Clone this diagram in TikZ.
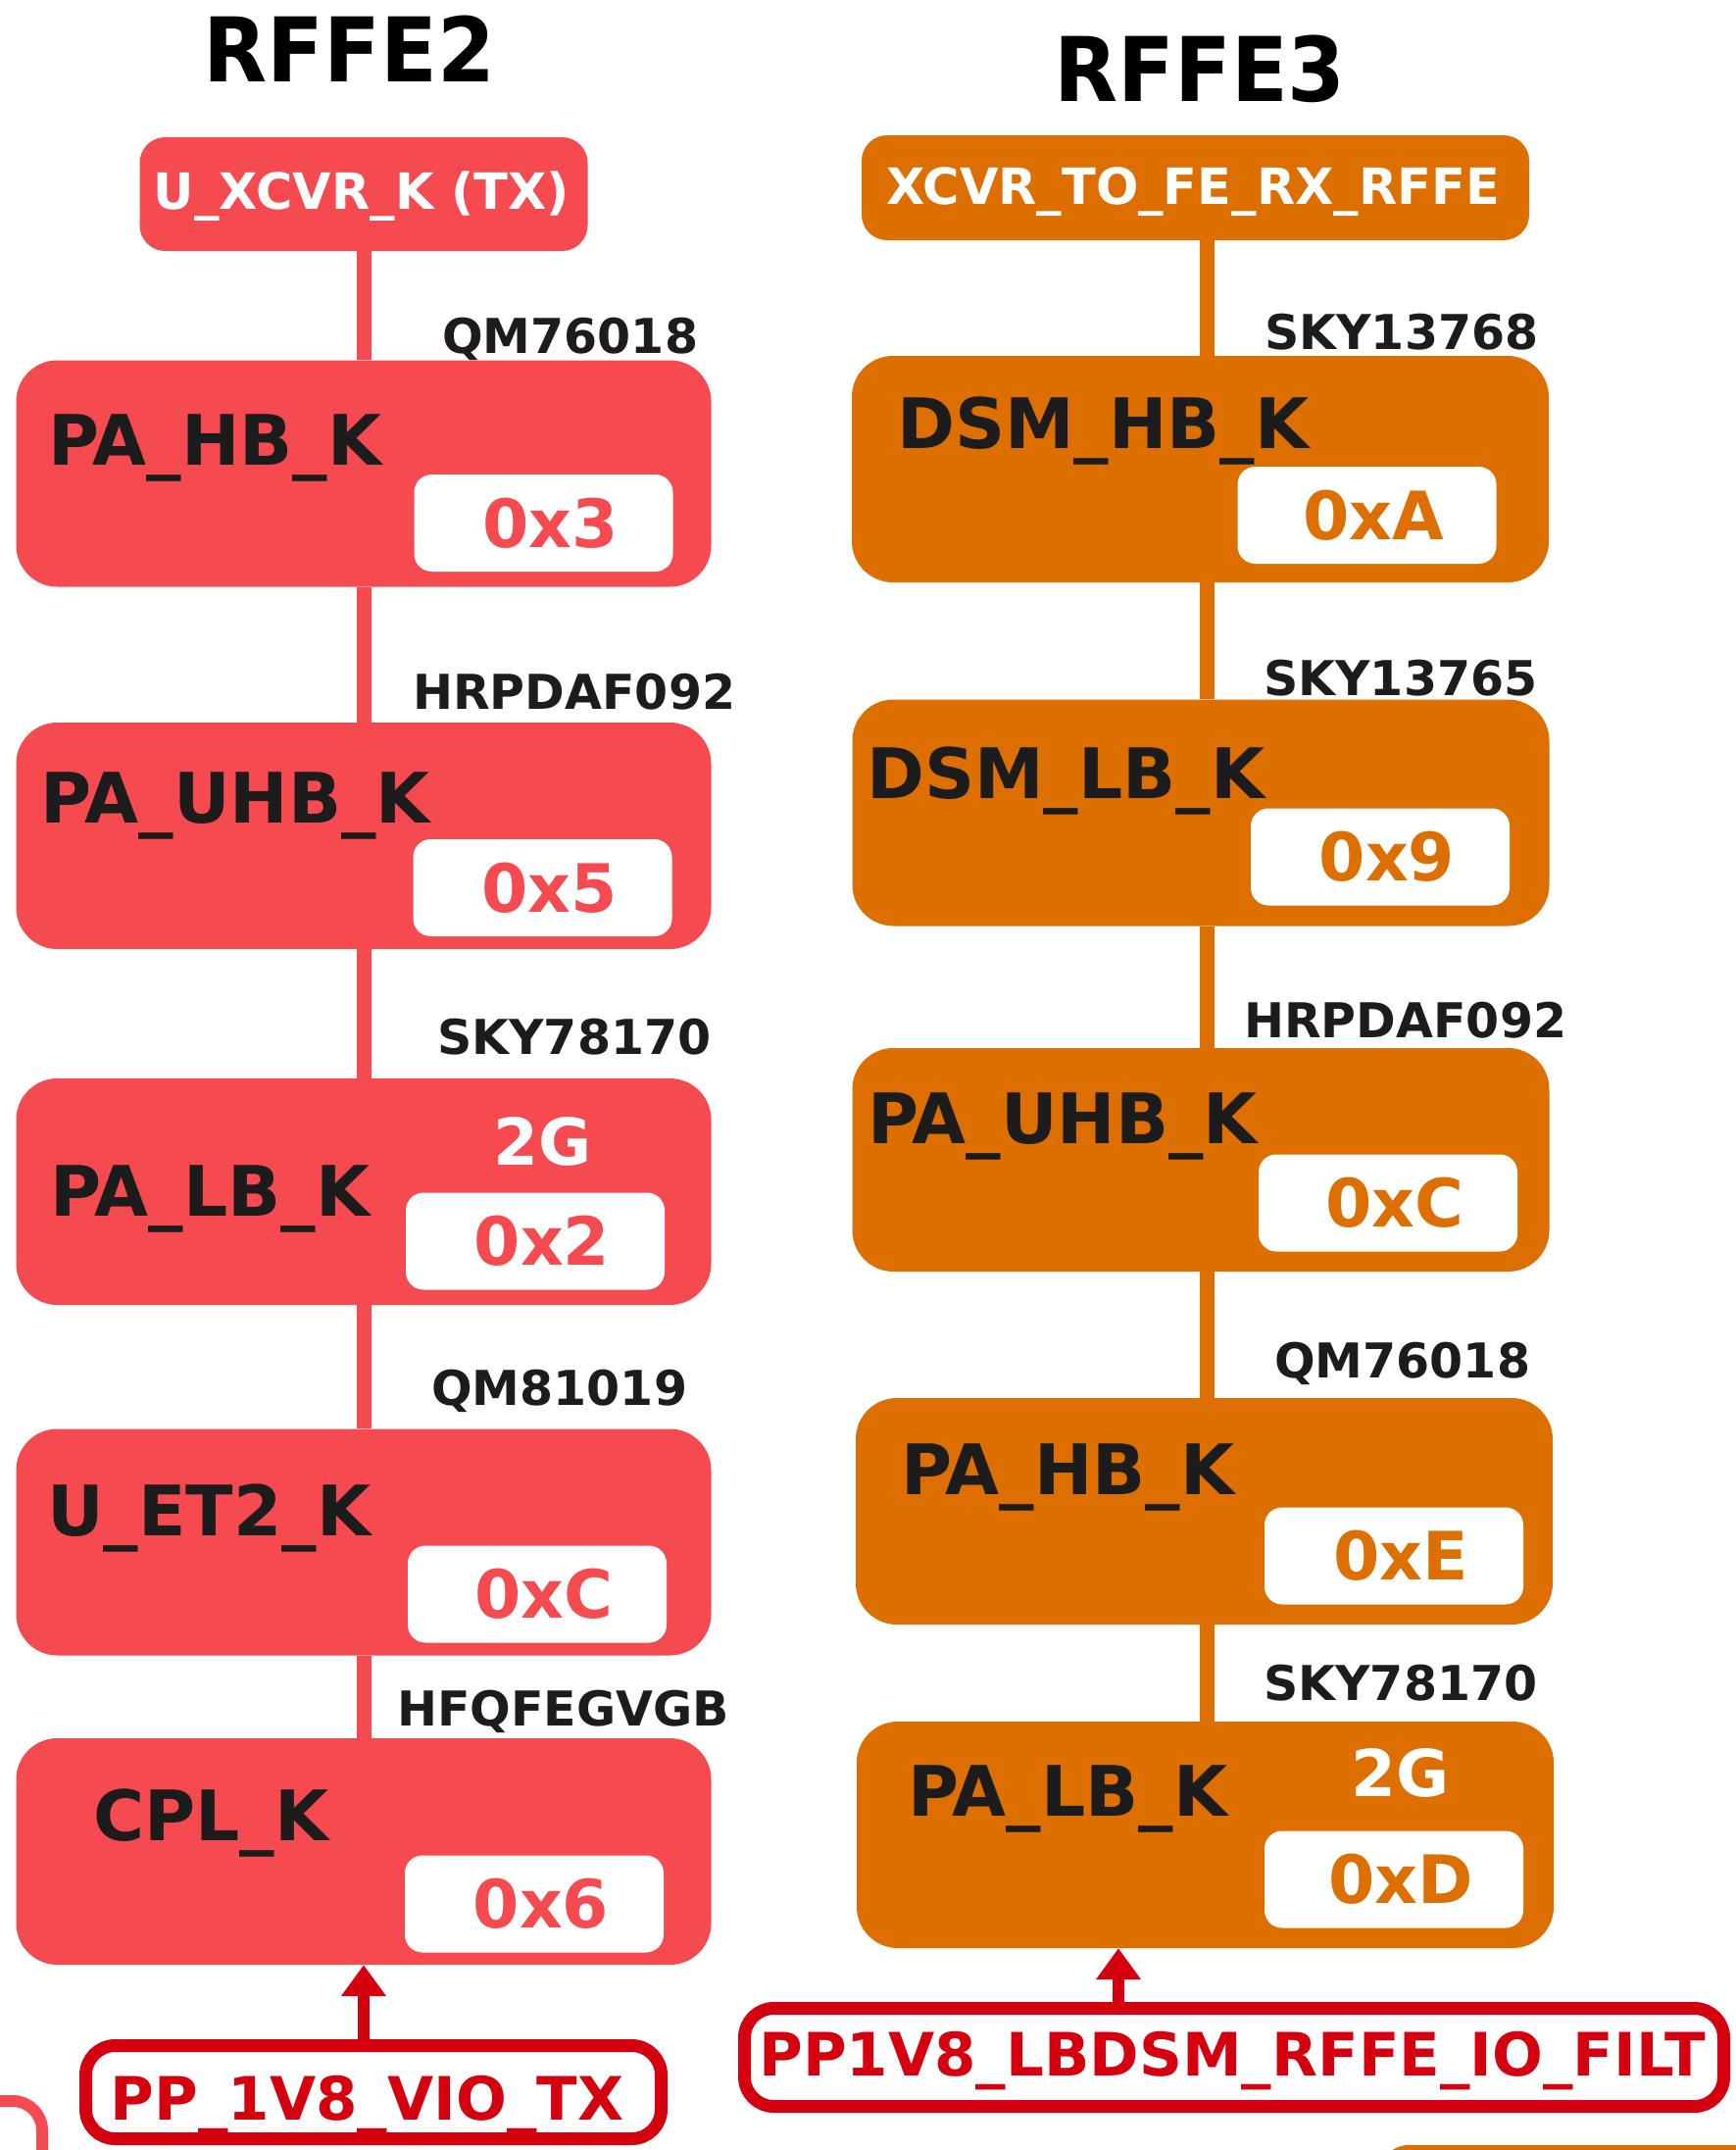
\documentclass[tikz,border=0pt]{standalone}
\usepackage{fontspec}
\usepackage{graphicx}
\setmainfont{DejaVu Sans}
\usetikzlibrary{arrows.meta}
\definecolor{cR}{HTML}{F54A50}
\definecolor{cO}{HTML}{DD6F00}
\definecolor{cD}{HTML}{D40010}
\definecolor{cK}{HTML}{1C1C1C}
\newcommand{\fsz}[1]{\fontsize{#1pt}{#1pt}\selectfont}
\begin{document}
\begin{tikzpicture}[x=1pt,y=-1pt,
  blk/.style={rounded corners=42pt, minimum width=709pt, minimum height=231pt, inner sep=0pt},
  rbox/.style={blk, fill=cR},
  obox/.style={blk, fill=cO},
  topbox/.style={rounded corners=26pt, inner sep=0pt},
  ibox/.style={fill=white, rounded corners=18pt, minimum width=264pt, minimum height=99pt, inner sep=0pt, font=\bfseries\fsz{68}},
  big/.style={anchor=base west, inner sep=0pt, font=\bfseries\fsz{71}, text=cK},
  part/.style={anchor=base west, inner sep=0pt, font=\bfseries\fsz{49}, text=cK},
  ttl/.style={anchor=base, inner sep=0pt, font=\bfseries\fsz{91}, text=black},
  toptxt/.style={anchor=base, inner sep=0pt, font=\bfseries\fsz{51}, text=white},
  twog/.style={anchor=base, inner sep=0pt, font=\bfseries\fsz{66}, text=white},
  pbox/.style={draw=cD, line width=13pt, rounded corners=30pt, inner sep=0pt},
  ptxt/.style={anchor=base, inner sep=0pt, font=\bfseries\fsz{61}, text=cD},
  rline/.style={draw=cR, line width=15pt},
  oline/.style={draw=cO, line width=15pt},
  parrow/.style={draw=cD, line width=12pt, -{Triangle[width=44pt,length=32pt]}},
]
\useasboundingbox[fill=white] (0,0) rectangle (1770,2193);

% fragments at the page edges
\draw[cR, line width=12pt, rounded corners=30pt] (-200,2143) -- (43,2143) -- (43,2400);
\fill[cO, rounded corners=30pt] (1407,2188) rectangle (1950,2450);

% titles
\node[ttl] (t2) at (356.5,83) {\scalebox{0.93}[1]{RFFE2}};
\node[ttl] (t3) at (1224,103) {\scalebox{0.93}[1]{RFFE3}};

% ---------------- RFFE2 (left)
\node[topbox, fill=cR, minimum width=457pt, minimum height=116pt] (lt) at (371,198) {};
\node[toptxt] (ltt) at (369,213) {U\_XCVR\_K (TX)};

\node[rbox] (b1) at (371,483) {};
\node[rbox] (b2) at (371,852.5) {};
\node[rbox] (b3) at (371,1215.5) {};
\node[rbox] (b4) at (371,1573) {};
\node[rbox] (b5) at (371,1888.5) {};

\draw[rline] (lt.south) -- (b1.north);
\draw[rline] (b1.south) -- (b2.north);
\draw[rline] (b2.south) -- (b3.north);
\draw[rline] (b3.south) -- (b4.north);
\draw[rline] (b4.south) -- (b5.north);

\node[ibox, text=cR] (h1) at (554.5,533.5) {\hspace*{14pt}0x3};
\node[ibox, text=cR] (h2) at (553.5,905.5) {\hspace*{14pt}0x5};
\node[ibox, text=cR] (h3) at (546,1266) {\hspace*{14pt}0x2};
\node[ibox, text=cR] (h4) at (548,1626) {\hspace*{14pt}0xC};
\node[ibox, text=cR] (h5) at (545,1942) {\hspace*{14pt}0x6};

\node[big] (n1) at (49,474) {PA\_HB\_K};
\node[big] (n2) at (41,839) {PA\_UHB\_K};
\node[big] (n3) at (51,1240) {PA\_LB\_K};
\node[big] (n4) at (48,1566) {U\_ET2\_K};
\node[big] (n5) at (95,1877) {CPL\_K};
\node[twog] (g3) at (553.5,1188) {2G};

\node[part] (p1) at (451,360) {QM76018};
\node[part] (p2) at (421,723) {HRPDAF092};
\node[part] (p3) at (446,1075) {SKY78170};
\node[part] (p4) at (440,1433) {QM81019};
\node[part] (p5) at (405,1760) {HFQFEGVGB};

\node[pbox, minimum width=587pt, minimum height=95pt] (pp1) at (381,2134) {};
\node[ptxt] (pp1t) at (374.5,2162) {PP\_1V8\_VIO\_TX};
\draw[parrow] (pp1.north -| b5.south) -- (b5.south);

% ---------------- RFFE3 (right)
\coordinate (rl) at (1231,0);
\coordinate (ra) at (1141,0);
\node[topbox, fill=cO, minimum width=681pt, minimum height=107pt] (rt) at (1219.5,191.5) {};
\node[toptxt] (rtt) at (1217,208) {XCVR\_TO\_FE\_RX\_RFFE};

\node[obox, minimum width=711pt] (r1) at (1224.5,478.5) {};
\node[obox, minimum width=711pt] (r2) at (1225,829) {};
\node[obox, minimum width=711pt, minimum height=228pt] (r3) at (1225,1183) {};
\node[obox, minimum width=711pt] (r4) at (1228.5,1541.5) {};
\node[obox, minimum width=711pt] (r5) at (1229.5,1871.5) {};

\draw[oline] (rt.south -| rl) -- (r1.north -| rl);
\draw[oline] (r1.south -| rl) -- (r2.north -| rl);
\draw[oline] (r2.south -| rl) -- (r3.north -| rl);
\draw[oline] (r3.south -| rl) -- (r4.north -| rl);
\draw[oline] (r4.south -| rl) -- (r5.north -| rl);

\node[ibox, text=cO] (k1) at (1394.5,525.5) {\hspace*{14pt}0xA};
\node[ibox, text=cO] (k2) at (1408,874) {\hspace*{14pt}0x9};
\node[ibox, text=cO] (k3) at (1416,1227) {\hspace*{14pt}0xC};
\node[ibox, text=cO] (k4) at (1422,1587) {\hspace*{14pt}0xE};
\node[ibox, text=cO] (k5) at (1422,1917) {\hspace*{14pt}0xD};

\node[big] (m1) at (915,457) {DSM\_HB\_K};
\node[big] (m2) at (884,814) {DSM\_LB\_K};
\node[big] (m3) at (885,1166) {PA\_UHB\_K};
\node[big] (m4) at (919,1524) {PA\_HB\_K};
\node[big] (m5) at (926,1852) {PA\_LB\_K};
\node[twog] (g5) at (1428.5,1832) {2G};

\node[part] (q1) at (1290,356) {SKY13768};
\node[part] (q2) at (1289,709) {SKY13765};
\node[part] (q3) at (1269,1058) {HRPDAF092};
\node[part] (q4) at (1300,1405) {QM76018};
\node[part] (q5) at (1289,1734) {SKY78170};

\node[pbox, minimum width=999pt, minimum height=100pt] (pp2) at (1259,2098.5) {};
\node[ptxt] (pp2t) at (1257,2117) {PP1V8\_LBDSM\_RFFE\_IO\_FILT};
\draw[parrow] (pp2.north -| ra) -- (r5.south -| ra);
\end{tikzpicture}
\end{document}
